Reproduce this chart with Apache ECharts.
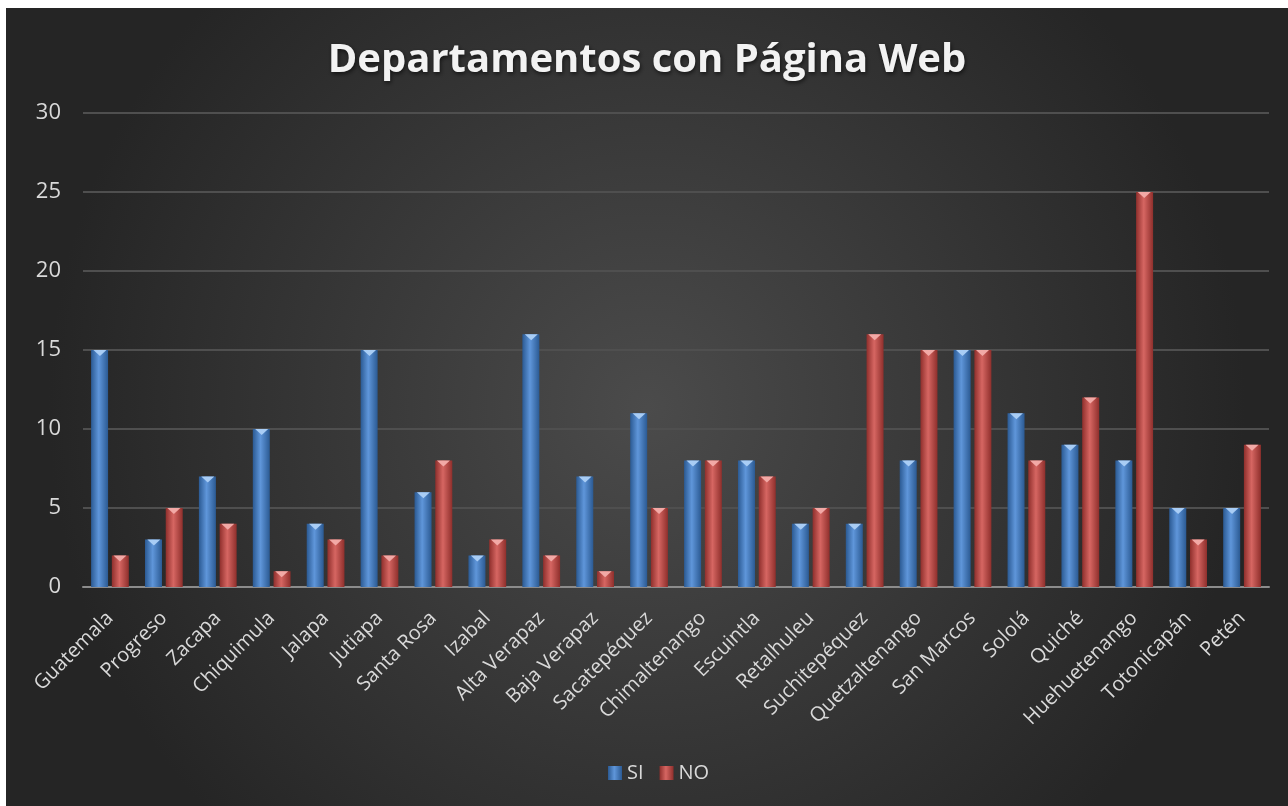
<!DOCTYPE html>
<html>
<head>
<meta charset="utf-8">
<script src="https://cdn.jsdelivr.net/npm/echarts@6/dist/echarts.min.js"></script>
<style>
  html, body { margin: 0; padding: 0; background: #ffffff; }
  #chart { position: absolute; left: 6px; top: 8px; width: 1282px; height: 798px; }
</style>
</head>
<body>
<div id="chart"></div>
<script>
// departamentos
var departamentos = ['Guatemala', 'Progreso', 'Zacapa', 'Chiquimula', 'Jalapa', 'Jutiapa', 'Santa Rosa',
    'Izabal', 'Alta Verapaz', 'Baja Verapaz', 'Sacatepéquez', 'Chimaltenango', 'Escuintla', 'Retalhuleu',
    'Suchitepéquez', 'Quetzaltenango', 'San Marcos', 'Sololá', 'Quiché', 'Huehuetenango', 'Totonicapán', 'Petén'];
// con pagina web
var si = [15, 3, 7, 10, 4, 15, 6, 2, 16, 7, 11, 8, 8, 4, 4, 8, 15, 11, 9, 8, 5, 5];
// sin pagina web
var no = [2, 5, 4, 1, 3, 2, 8, 3, 2, 1, 5, 8, 7, 5, 16, 15, 15, 8, 12, 25, 3, 9];

var chart = echarts.init(document.getElementById('chart'));

function barColor(dark, light) {
    return new echarts.graphic.LinearGradient(0, 0, 1, 0, [
        {offset: 0, color: dark},
        {offset: 0.45, color: light},
        {offset: 1, color: dark}
    ]);
}

var azul = barColor('#2b5a93', '#5f96da');
var rojo = barColor('#8f2f2c', '#d66662');

chart.setOption({
    backgroundColor: new echarts.graphic.RadialGradient(0.5, 0.5, 0.75, [
        {offset: 0, color: '#4b4b4b'},
        {offset: 1, color: '#252525'}
    ]),
    title: {
        text: 'Departamentos con Página Web',
        left: 'center',
        top: 28,
        textStyle: {
            color: '#f2f2f2',
            fontFamily: 'Open Sans',
            fontWeight: 'bold',
            fontSize: 40,
            textShadowColor: 'rgba(0,0,0,0.6)',
            textShadowBlur: 4,
            textShadowOffsetX: 1,
            textShadowOffsetY: 2
        }
    },
    legend: {
        top: 750,
        left: 597,
        itemWidth: 14,
        itemHeight: 14,
        itemGap: 16,
        icon: 'rect',
        data: ['SI', 'NO'],
        textStyle: {color: '#d9d9d9', fontFamily: 'Open Sans', fontSize: 20}
    },
    grid: {
        left: 77,
        right: 19,
        top: 105,
        bottom: 219
    },
    xAxis: {
        type: 'category',
        data: departamentos,
        axisTick: {show: false},
        axisLine: {lineStyle: {color: '#8c8c8c', width: 2}},
        axisLabel: {
            rotate: 45,
            interval: 0,
            color: '#d9d9d9',
            fontFamily: 'Open Sans',
            fontSize: 20,
            margin: 28
        }
    },
    yAxis: {
        type: 'value',
        min: 0,
        max: 30,
        interval: 5,
        axisLine: {show: false},
        axisTick: {show: false},
        axisLabel: {color: '#d9d9d9', fontFamily: 'Open Sans', fontSize: 22, margin: 22},
        splitLine: {lineStyle: {color: '#4f4f4f', width: 2}}
    },
    series: [
        {
            name: 'SI',
            type: 'bar',
            data: si,
            barWidth: 17,
            barGap: '22%',
            itemStyle: {color: azul, shadowColor: 'rgba(0,0,0,0.5)', shadowBlur: 3, shadowOffsetX: 1}
        },
        {
            name: 'NO',
            type: 'bar',
            data: no,
            barWidth: 17,
            barGap: '22%',
            itemStyle: {color: rojo, shadowColor: 'rgba(0,0,0,0.5)', shadowBlur: 3, shadowOffsetX: 1}
        },
        // puntas biseladas
        {
            name: 'SI',
            type: 'pictorialBar',
            data: si,
            symbol: 'triangle',
            symbolRotate: 180,
            symbolSize: [13, 6],
            symbolPosition: 'end',
            symbolOffset: [-10, 0],
            itemStyle: {color: '#a9cdf5'},
            z: 5,
            silent: true
        },
        {
            name: 'NO',
            type: 'pictorialBar',
            data: no,
            symbol: 'triangle',
            symbolRotate: 180,
            symbolSize: [13, 6],
            symbolPosition: 'end',
            symbolOffset: [10, 0],
            itemStyle: {color: '#f2a9a6'},
            z: 5,
            silent: true
        }
    ]
});

window.onresize = function () {
    chart.resize();
};
</script>
</body>
</html>
